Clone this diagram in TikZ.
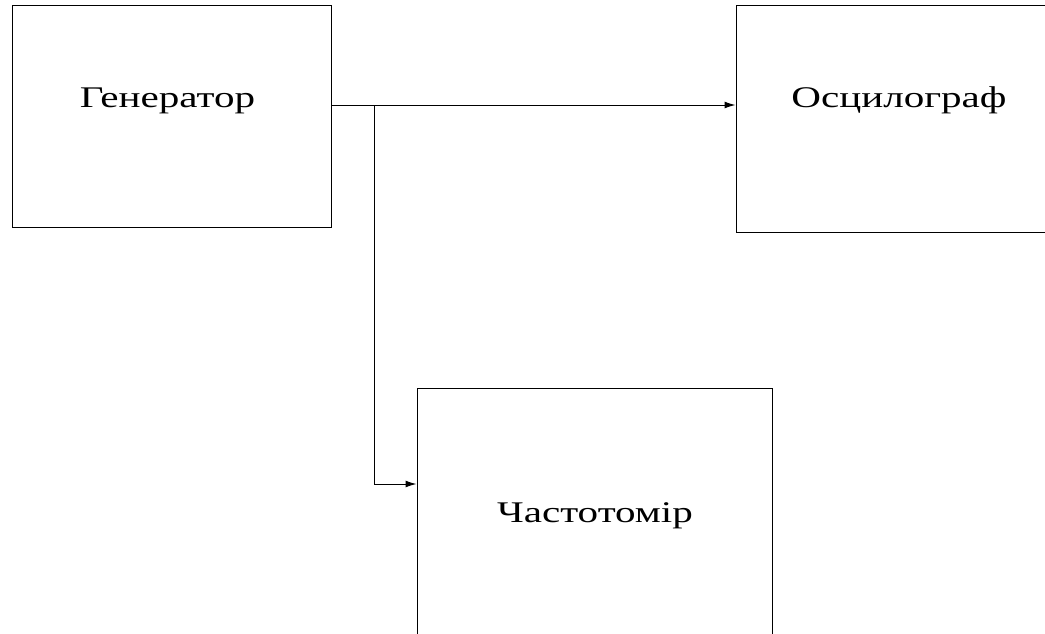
\documentclass[tikz,border=0pt]{standalone}
\usepackage{fontspec}
\setmainfont{Liberation Serif}
\usetikzlibrary{arrows.meta}
\begin{document}
\begin{tikzpicture}[x=1pt,y=-1pt,
  block/.style={draw=black,line width=1pt,rectangle,inner sep=0pt},
  caption/.style={anchor=base,inner sep=0pt,font=\fontsize{30}{32}\selectfont},
  arr/.style={line width=1pt,-{Latex[length=11pt,width=7pt]}},
  wire/.style={line width=1pt}]
  \clip (0,0) rectangle (1045,633);
  \fill[white] (0,0) rectangle (1045,633);
  % instrument blocks
  \node[block,minimum width=319pt,minimum height=222pt] (gen) at (171.5,116) {};
  \node[block,minimum width=326pt,minimum height=227pt] (osc) at (899,118.5) {};
  \node[block,minimum width=355pt,minimum height=272pt] (freq) at (594.5,524) {};
  % block captions
  \node[caption] (gentext) at (167.5,107) {\scalebox{1.37}[1]{Генератор}};
  \node[caption] (osctext) at (899,107) {\scalebox{1.37}[1]{Осцилограф}};
  \node[caption] (freqtext) at (595,522) {\scalebox{1.37}[1]{Частотомір}};
  % signal routing
  \coordinate (row) at (0,105);
  \coordinate (frow) at (0,484);
  \coordinate (split) at (374,105);
  \draw[wire] (gen.east |- row) -- (split);
  \draw[arr] (split) -- (osc.west |- row);
  \draw[arr] (split) |- (freq.west |- frow);
\end{tikzpicture}
\end{document}
